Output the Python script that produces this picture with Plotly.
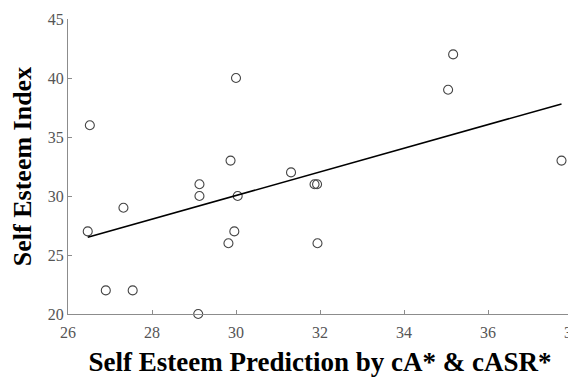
import plotly.graph_objects as go

# Data
pred_x = [26.52, 30.0, 29.87, 29.13, 29.13, 30.04, 31.31, 35.17, 35.05, 37.75,
          31.87, 31.93, 27.32, 26.47, 29.96, 29.82, 26.9, 27.54, 29.1, 31.94]
index_y = [36, 40, 33, 31, 30, 30, 32, 42, 39, 33,
           31, 31, 29, 27, 27, 26, 22, 22, 20, 26]
fit_x = [26.47, 37.75]
fit_y = [26.5, 37.8]

x_ticks = [26, 28, 30, 32, 34, 36, 38]
y_ticks = [20, 25, 30, 35, 40, 45]

fig = go.Figure()
fig.add_trace(go.Scatter(
    x=pred_x, y=index_y, mode="markers",
    marker=dict(symbol="circle-open", size=9, color="#444444", line=dict(width=1.1)),
    showlegend=False, cliponaxis=False))
fig.add_trace(go.Scatter(
    x=fit_x, y=fit_y, mode="lines",
    line=dict(color="black", width=1.6),
    showlegend=False))

axis_common = dict(
    showgrid=False, zeroline=False, showline=True, linecolor="#8c8c8c", linewidth=1,
    ticks="inside", ticklen=4, tickcolor="#8c8c8c", tickwidth=1,
    tickfont=dict(family="Liberation Serif", size=16, color="#555555"),
    mirror=False, automargin=False, ticklabeloverflow="allow",
)

# the page body has an 8px default margin, so the figure is sized to fit the window
fig.update_layout(
    width=568, height=369,
    margin=dict(l=60, r=4, t=11, b=63),
    paper_bgcolor="white", plot_bgcolor="white",
    xaxis=dict(range=[26, 38], tickvals=x_ticks, ticktext=[str(v) for v in x_ticks],
               title=dict(text="<b>Self Esteem Prediction by cA* &amp; cASR*</b>",
                          font=dict(family="Liberation Serif", size=27, color="black"),
                          standoff=12),
               ticklabelstandoff=4,
               **axis_common),
    yaxis=dict(range=[20, 45], tickvals=y_ticks, ticktext=[str(v) for v in y_ticks],
               title=dict(text="<b>Self Esteem Index</b>",
                          font=dict(family="Liberation Serif", size=26, color="black"),
                          standoff=8),
               **axis_common),
)

fig.write_html("out.html")
